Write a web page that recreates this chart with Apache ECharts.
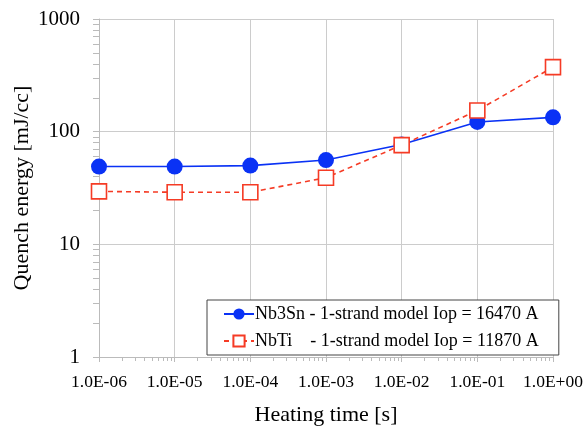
<!DOCTYPE html>
<html>
<head>
<meta charset="utf-8">
<script src="https://cdn.jsdelivr.net/npm/echarts@6/dist/echarts.min.js"></script>
<style>
body { margin: 0; background: #fff; }
#chart { width: 583px; height: 432px; }
</style>
</head>
<body>
<div id="chart"></div>
<script>
var heatingTime = [1e-6, 1e-5, 1e-4, 1e-3, 1e-2, 1e-1, 1e0]
var nb3snEnergy = [49, 49, 50, 56, 77, 122, 134]
var nbtiEnergy = [29.5, 29, 29, 39, 76, 154, 374]
var nb3snName = 'Nb3Sn - 1-strand model Iop = 16470 A'
var nbtiName = 'NbTi    - 1-strand model Iop = 11870 A'

function expLabel(v) {
    var e = Math.round(Math.log10(v))
    var s = Math.abs(e) < 10 ? '0' + Math.abs(e) : '' + Math.abs(e)
    return '1.0E' + (e < 0 ? '-' : '+') + s
}

var font = 'Liberation Serif'
var myChart = echarts.init(document.getElementById('chart'))
var option = {
    animation: false,
    grid: { left: 99, right: 30, top: 19, bottom: 75, containLabel: false, outerBoundsMode: 'none' },
    legend: {
        orient: 'vertical',
        left: 207, top: 300,
        width: 350,
        padding: [5, 20, 5, 16],
        itemGap: 9,
        itemWidth: 30, itemHeight: 14,
        borderColor: '#444', borderWidth: 1,
        backgroundColor: '#fff',
        textStyle: { fontFamily: font, fontSize: 18, color: '#000', padding: [0, 0, 0, -4] },
        data: [nb3snName, nbtiName]
    },
    xAxis: {
        type: 'log',
        logBase: 10,
        min: 1e-6, max: 1,
        name: 'Heating time [s]',
        nameLocation: 'middle',
        nameGap: 47,
        nameTextStyle: { fontFamily: font, fontSize: 22, color: '#000' },
        axisLine: { lineStyle: { color: '#bbb' } },
        axisTick: { show: true, length: 5, lineStyle: { color: '#bbb' } },
        minorTick: { show: true, splitNumber: 9, length: 4, lineStyle: { color: '#bbb' } },
        splitLine: { show: true, lineStyle: { color: '#ccc' } },
        axisLabel: { fontFamily: font, fontSize: 17.5, color: '#000', margin: 16, formatter: expLabel }
    },
    yAxis: {
        type: 'log',
        logBase: 10,
        min: 1, max: 1000,
        name: 'Quench energy [mJ/cc]',
        nameLocation: 'middle',
        nameGap: 66,
        nameMoveOverlap: false,
        nameTextStyle: { fontFamily: font, fontSize: 22, color: '#000' },
        axisLine: { show: true, lineStyle: { color: '#bbb' } },
        axisTick: { show: true, inside: false, length: 6, lineStyle: { color: '#bbb' } },
        minorTick: { show: true, splitNumber: 9, length: 6, lineStyle: { color: '#bbb' } },
        splitLine: { show: true, lineStyle: { color: '#ccc' } },
        axisLabel: { fontFamily: font, fontSize: 21, color: '#000', margin: 19, formatter: function(v) { return '' + Math.round(v) } }
    },
    series: [
        {
            name: nb3snName,
            type: 'line',
            data: heatingTime.map(function(t, i) { return [t, nb3snEnergy[i]] }),
            symbol: 'circle',
            symbolSize: 16,
            itemStyle: { color: '#0a32f5' },
            lineStyle: { color: '#0a32f5', width: 1.6 }
        },
        {
            name: nbtiName,
            type: 'line',
            data: heatingTime.map(function(t, i) { return [t, nbtiEnergy[i]] }),
            symbol: 'rect',
            symbolSize: 15,
            itemStyle: { color: '#fff', borderColor: '#f53b25', borderWidth: 1.6 },
            lineStyle: { color: '#f53b25', width: 1.6, type: [5, 4] }
        }
    ]
}
myChart.setOption(option)
</script>
</body>
</html>
